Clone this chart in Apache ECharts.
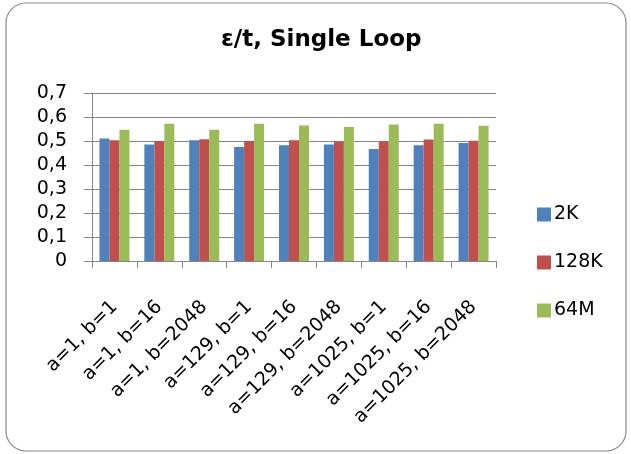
<!DOCTYPE html>
<html>
<head>
<meta charset="utf-8">
<script src="https://cdn.jsdelivr.net/npm/echarts@6/dist/echarts.min.js"></script>
<style>
html,body{margin:0;padding:0;background:#fff;}
#chart{width:631px;height:454px;}
</style>
</head>
<body>
<div id="chart"></div>
<script>
const titleText = "ε/t, Single Loop";
const categories = ["a=1, b=1","a=1, b=16","a=1, b=2048","a=129, b=1","a=129, b=16","a=129, b=2048","a=1025, b=1","a=1025, b=16","a=1025, b=2048"];
const seriesNames = ["2K","128K","64M"];
const values2K   = [0.510,0.485,0.503,0.475,0.482,0.485,0.467,0.482,0.492];
const values128K = [0.503,0.500,0.507,0.500,0.503,0.497,0.499,0.506,0.501];
const values64M  = [0.547,0.572,0.547,0.572,0.565,0.558,0.569,0.572,0.564];
const colors = ["#4F81BD","#C0504D","#9BBB59"];
const yMax = 0.7, yInterval = 0.1;

const FONT = "DejaVu Sans";
const chart = echarts.init(document.getElementById('chart'), null, {renderer:'canvas'});
const mk = (name, data, i) => ({
  name, type:'bar', data, barWidth:10, barGap:'0%',
  itemStyle:{color:colors[i]}, animation:false
});
chart.setOption({
  animation:false,
  textStyle:{fontFamily:FONT},
  graphic:[{type:'rect', shape:{x:6, y:3, width:620, height:448, r:20},
    style:{fill:'none', stroke:'#8a8a8a', lineWidth:1.2}, z:-1}],
  title:{text:titleText, left:216, top:24,
    textStyle:{fontFamily:FONT, fontWeight:'bold', fontSize:23, color:'#000'}},
  legend:{orient:'vertical', left:532, top:200, itemWidth:14, itemHeight:14, itemGap:29,
    icon:'rect', data:seriesNames,
    textStyle:{fontFamily:FONT, fontSize:19, color:'#000', lineHeight:18, padding:[0,0,0,-2]}},
  grid:{left:92, right:135, top:93, bottom:193, containLabel:false},
  xAxis:{type:'category', data:categories, boundaryGap:true,
    axisLine:{lineStyle:{color:'#868686', width:1}},
    axisTick:{show:true, length:7, interval:0, lineStyle:{color:'#868686'}},
    axisLabel:{rotate:45, interval:0, margin:43, fontSize:19, color:'#000', fontFamily:FONT}},
  yAxis:{type:'value', min:0, max:yMax, interval:yInterval,
    axisLine:{show:true, lineStyle:{color:'#868686', width:1}},
    axisTick:{show:true, length:8, inside:false, lineStyle:{color:'#868686'}},
    splitLine:{lineStyle:{color:'#868686', width:1}},
    axisLabel:{margin:25, fontSize:19, color:'#000', fontFamily:FONT,
      formatter:v => v===0 ? '0' : v.toFixed(1).replace('.', ',')}},
  series:[mk(seriesNames[0], values2K, 0), mk(seriesNames[1], values128K, 1), mk(seriesNames[2], values64M, 2)]
});
</script>
</body>
</html>
